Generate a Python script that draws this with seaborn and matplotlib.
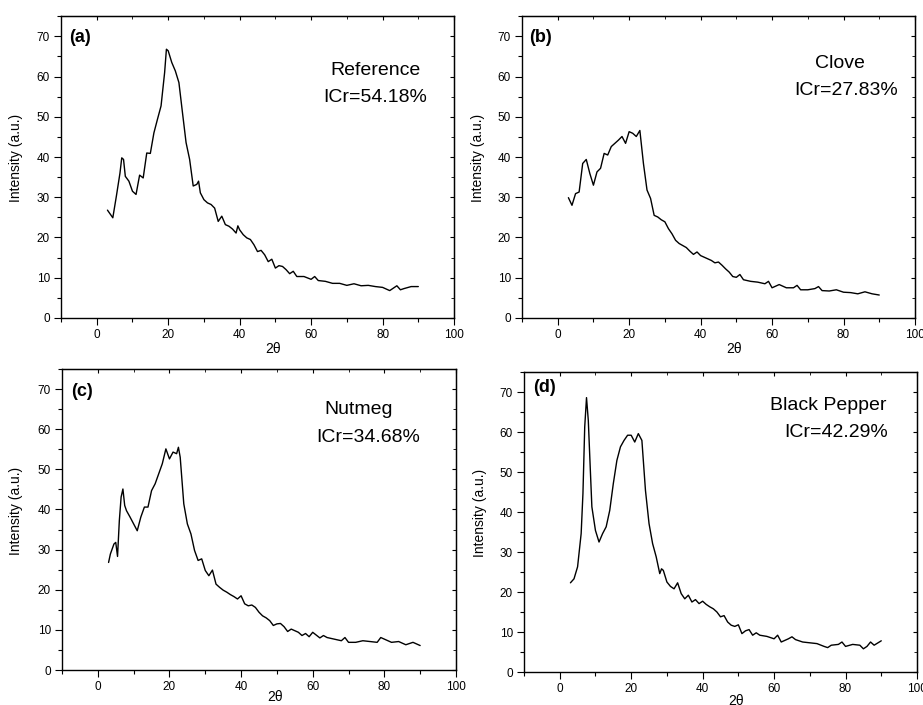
import numpy as np
import pandas as pd
import seaborn as sns
import matplotlib.pyplot as plt
from matplotlib.ticker import MultipleLocator

# XRD patterns (2theta in degrees, intensity in a.u.)
tth_a = [3, 4.5, 5.5, 6.5, 7, 7.5, 8, 9, 10, 11, 12, 13, 14, 15, 16, 17, 18, 19, 19.5, 20,
         21, 22, 23, 24, 25, 26, 27, 28, 28.5, 29, 30, 31, 32, 33, 34, 35, 36, 37, 38, 39,
         39.5, 40, 41, 42, 43, 44, 45, 46, 47, 48, 49, 50, 51, 52, 53, 54, 55, 56, 58, 60,
         61, 62, 64, 66, 68, 70, 72, 74, 76, 78, 80, 82, 83, 84, 85, 86, 88, 90]
int_a = [26.8, 24.9, 30.3, 36, 39.8, 39.4, 35.2, 34, 31.5, 30.7, 35.5, 34.8, 41, 40.9, 46, 49.4, 52.7, 61, 66.8, 66.4,
         63.5, 61.4, 58.5, 51, 43.6, 39.4, 32.8, 33.2, 34, 31.1, 29.4, 28.6, 28.2, 27.3, 24, 25.3, 23.2, 22.8, 22.1, 21.1,
         22.9, 21.9, 20.7, 19.9, 19.5, 18.2, 16.5, 16.8, 15.7, 14, 14.6, 12.4, 13, 12.8, 12, 11, 11.6, 10.3, 10.3, 9.6,
         10.3, 9.3, 9.1, 8.6, 8.6, 8.1, 8.5, 8, 8.1, 7.8, 7.6, 6.8, 7.4, 8, 7, 7.3, 7.8, 7.8]

tth_b = [3, 4, 5, 6, 7, 8, 9, 10, 11, 12, 13, 14, 15, 16, 17, 18, 19, 20, 21, 22,
         23, 24, 25, 26, 27, 28, 29, 30, 31, 32, 33, 34, 35, 36, 37, 38, 39, 40, 41, 42,
         43, 44, 45, 46, 47, 48, 49, 50, 51, 52, 54, 56, 58, 59, 60, 62, 64, 66, 67, 68,
         70, 72, 73, 74, 76, 78, 80, 82, 84, 86, 88, 90]
int_b = [29.9, 28, 30.9, 31.3, 38.4, 39.4, 35.9, 33, 36.3, 37.2, 40.9, 40.5, 42.6, 43.4, 44.2, 45.1, 43.4, 46.3, 45.9, 45.1,
         46.6, 38.4, 31.8, 29.7, 25.5, 25.1, 24.4, 23.9, 22.2, 20.9, 19.3, 18.5, 18, 17.5, 16.6, 15.8, 16.4, 15.5, 15.1, 14.7,
         14.3, 13.7, 13.9, 13.1, 12.2, 11.4, 10.3, 10.1, 10.8, 9.5, 9.1, 8.9, 8.5, 9.1, 7.5, 8.3, 7.5, 7.5, 8.1, 7,
         7, 7.3, 7.8, 6.8, 6.7, 7, 6.4, 6.3, 6, 6.5, 6, 5.7]

tth_c = [3, 3.5, 4.5, 5, 5.5, 6, 6.5, 7, 7.5, 8, 9, 10, 11, 12, 13, 14, 15, 16, 17, 18,
         19, 20, 21, 22, 22.5, 23, 24, 25, 26, 27, 28, 29, 30, 31, 32, 33, 34, 35, 36, 37,
         38, 39, 40, 41, 42, 43, 44, 45, 46, 47, 48, 49, 50, 51, 52, 53, 54, 56, 57, 58,
         59, 60, 62, 63, 64, 66, 68, 69, 70, 72, 74, 76, 78, 79, 80, 82, 84, 86, 88, 90]
int_c = [26.8, 28.9, 31.4, 31.8, 28.3, 37.2, 43.1, 45.1, 41, 39.7, 38.1, 36.4, 34.7, 38.1, 40.6, 40.6, 44.7, 46.4, 48.9, 51.4,
         55.1, 52.6, 54.3, 53.9, 55.5, 53, 41.4, 36.4, 33.9, 29.8, 27.3, 27.7, 24.8, 23.5, 24.9, 21.4, 20.6, 19.9, 19.4, 18.8,
         18.3, 17.7, 18.5, 16.5, 16, 16.2, 15.6, 14.4, 13.5, 13, 12.3, 11.1, 11.5, 11.6, 10.8, 9.6, 10.2, 9.4, 8.6, 9.1,
         8.3, 9.4, 8, 8.6, 8.1, 7.7, 7.3, 8.1, 6.9, 6.9, 7.3, 7.1, 6.9, 8.1, 7.7, 6.9, 7.1, 6.3, 6.9, 6.1]

tth_d = [3, 4, 5, 6, 6.5, 7, 7.5, 8, 8.5, 9, 10, 11, 12, 13, 14, 15, 16, 17, 18, 19,
         20, 21, 22, 23, 24, 25, 26, 27, 28, 28.5, 29, 30, 31, 32, 33, 34, 35, 36, 37, 38,
         39, 40, 41, 42, 43, 44, 45, 46, 47, 48, 49, 50, 51, 52, 53, 54, 55, 56, 58, 60,
         61, 62, 64, 65, 66, 68, 70, 72, 74, 75, 76, 78, 79, 80, 82, 84, 85, 86, 87, 88, 90]
int_d = [22.3, 23.3, 26.3, 34.6, 44.6, 61.3, 68.6, 62.9, 52, 41.3, 35.4, 32.5, 34.6, 36.3, 40.4, 47.1, 52.9, 56.3, 57.9, 59.2,
         59.2, 57.5, 59.6, 57.9, 45.4, 37.1, 32.1, 28.8, 24.6, 25.8, 25.4, 22.5, 21.4, 20.8, 22.3, 19.6, 18.3, 19.2, 17.5, 18.1,
         17.1, 17.7, 16.9, 16.3, 15.8, 15, 13.8, 14.1, 12.5, 11.7, 11.4, 11.8, 9.6, 10.3, 10.6, 9.2, 9.8, 9.2, 8.9, 8.3,
         9.2, 7.5, 8.3, 8.8, 8.1, 7.5, 7.3, 7.1, 6.4, 6.1, 6.7, 6.9, 7.5, 6.4, 6.9, 6.7, 5.8, 6.4, 7.5, 6.7, 7.8]

panels = ['(a)', '(b)', '(c)', '(d)']
names = ['Reference', 'Clove', 'Nutmeg', 'Black Pepper']
icr = ['ICr=54.18%', 'ICr=27.83%', 'ICr=34.68%', 'ICr=42.29%']

sns.set_style("ticks")
plt.rcParams['font.family'] = ['Liberation Sans', 'DejaVu Sans']
for k in ['text.color', 'axes.labelcolor', 'xtick.color', 'ytick.color', 'axes.edgecolor']:
    plt.rcParams[k] = 'black'

fig = plt.figure(figsize=(9.23, 7.05), dpi=100)

# axes boxes [left, bottom, width, height]
boxes = [[0.0661, 0.549, 0.4258, 0.428],
         [0.5655, 0.549, 0.4258, 0.428],
         [0.0672, 0.0496, 0.4268, 0.427],
         [0.5677, 0.0468, 0.4258, 0.4255]]
data = [(tth_a, int_a), (tth_b, int_b), (tth_c, int_c), (tth_d, int_d)]
name_pos = [(0.80, 0.82), (0.81, 0.844), (0.754, 0.864), (0.773, 0.887)]
icr_pos = [(0.80, 0.732), (0.824, 0.755), (0.777, 0.771), (0.794, 0.797)]
lab_pos = [(0.02, 0.93), (0.018, 0.93), (0.023, 0.924), (0.023, 0.947)]
xlab_y = [-0.079, -0.079, -0.066, -0.073]
ylab_x = [-0.097, -0.094, -0.100, -0.094]

for i in range(4):
    ax = fig.add_axes(boxes[i])
    df = pd.DataFrame({'tth': data[i][0], 'I': data[i][1]})
    sns.lineplot(data=df, x='tth', y='I', ax=ax, color='black', linewidth=1.0)
    ax.set_xlim(-10, 100)
    ax.set_ylim(0, 75)
    ax.xaxis.set_major_locator(MultipleLocator(20))
    ax.xaxis.set_minor_locator(MultipleLocator(10))
    ax.yaxis.set_major_locator(MultipleLocator(10))
    ax.yaxis.set_minor_locator(MultipleLocator(5))
    ax.tick_params(which='major', direction='out', length=5, width=0.8, labelsize=8.5, pad=3)
    ax.tick_params(which='minor', direction='out', length=3, width=0.8)
    for s in ax.spines.values():
        s.set_visible(True)
        s.set_linewidth(1.0)

    # inward ticks on the top and right frame
    top = ax.secondary_xaxis('top')
    top.xaxis.set_major_locator(MultipleLocator(20))
    top.xaxis.set_minor_locator(MultipleLocator(10))
    top.tick_params(which='both', direction='in', length=3, labeltop=False)
    top.tick_params(which='minor', length=2)
    right = ax.secondary_yaxis('right')
    right.yaxis.set_major_locator(MultipleLocator(10))
    right.yaxis.set_minor_locator(MultipleLocator(5))
    right.tick_params(which='both', direction='in', length=3, labelright=False)
    right.tick_params(which='minor', length=2)

    ax.set_xlabel('2θ', fontsize=10)
    ax.xaxis.set_label_coords(0.54, xlab_y[i])
    ax.set_ylabel('Intensity (a.u.)', fontsize=10)
    ax.yaxis.set_label_coords(ylab_x[i], 0.53)

    ax.text(lab_pos[i][0], lab_pos[i][1], panels[i], transform=ax.transAxes,
            fontsize=13, fontweight='bold', ha='left', va='center')
    ax.text(name_pos[i][0], name_pos[i][1], names[i], transform=ax.transAxes,
            fontsize=14, ha='center', va='center')
    ax.text(icr_pos[i][0], icr_pos[i][1], icr[i], transform=ax.transAxes,
            fontsize=14, ha='center', va='center')

fig.savefig('out.png', dpi=100)
